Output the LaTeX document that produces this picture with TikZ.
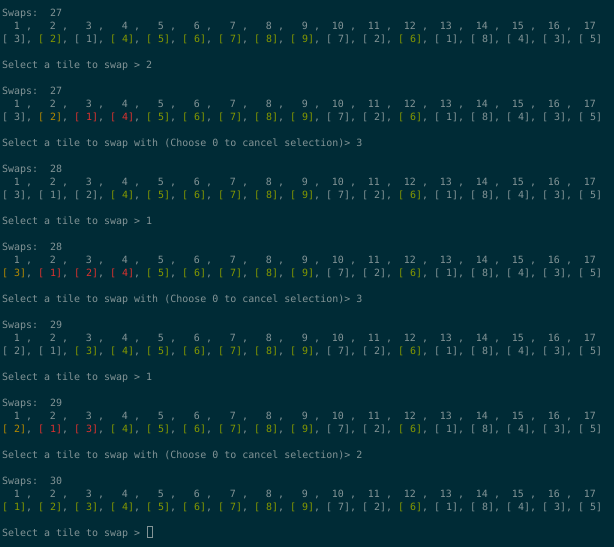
\documentclass[tikz,border=0pt]{standalone}
\usepackage{fontspec}
\setmonofont{DejaVu Sans Mono}
\definecolor{bg}{HTML}{002B36}
\definecolor{fg}{HTML}{839496}
\definecolor{tg}{HTML}{859900}
\definecolor{ty}{HTML}{B58900}
\definecolor{tr}{HTML}{DC322F}
\tikzset{
  term/.style={font=\ttfamily\fontsize{9.97}{13}\selectfont, text=fg, inner sep=0pt, anchor=base west},
  termr/.style={term, anchor=base east},
  cursorbox/.style={draw=fg, line width=0.8pt, minimum width=5pt, minimum height=11pt, inner sep=0pt, anchor=south west}
}
\newcommand{\tailvals}{fg/7,fg/2,tg/6,fg/1,fg/8,fg/4,fg/3,fg/5}
\begin{document}
\begin{tikzpicture}[x=1pt,y=-1pt]
\fill[bg] (0,0) rectangle (614,547);
\useasboundingbox (0,0) rectangle (614,547);
\foreach \b/\sw/\row/\sel in {
  0/27/{fg/3,tg/2,fg/1,tg/4,tg/5,tg/6,tg/7,tg/8,tg/9}/{Select a tile to swap > 2},
  1/27/{fg/3,ty/2,tr/1,tr/4,tg/5,tg/6,tg/7,tg/8,tg/9}/{Select a tile to swap with (Choose 0 to cancel selection)> 3},
  2/28/{fg/3,fg/1,fg/2,tg/4,tg/5,tg/6,tg/7,tg/8,tg/9}/{Select a tile to swap > 1},
  3/28/{ty/3,tr/1,tr/2,tr/4,tg/5,tg/6,tg/7,tg/8,tg/9}/{Select a tile to swap with (Choose 0 to cancel selection)> 3},
  4/29/{fg/2,fg/1,tg/3,tg/4,tg/5,tg/6,tg/7,tg/8,tg/9}/{Select a tile to swap > 1},
  5/29/{ty/2,tr/1,tr/3,tg/4,tg/5,tg/6,tg/7,tg/8,tg/9}/{Select a tile to swap with (Choose 0 to cancel selection)> 2},
  6/30/{tg/1,tg/2,tg/3,tg/4,tg/5,tg/6,tg/7,tg/8,tg/9}/{Select a tile to swap >}}{
  \pgfmathsetmacro{\ys}{16+13*(6*\b)}
  \pgfmathsetmacro{\yh}{16+13*(6*\b+1)}
  \pgfmathsetmacro{\yv}{16+13*(6*\b+2)}
  \pgfmathsetmacro{\yq}{16+13*(6*\b+4)}
  \node[term] (s\b) at (2,\ys) {Swaps:\ \ \sw};
  \foreach \n in {1,...,17}{
    \pgfmathsetmacro{\xh}{2+6*(6*(\n-1)+3)}
    \pgfmathsetmacro{\xc}{2+6*(6*(\n-1)+4)}
    \node[termr] (h\b-\n) at (\xh,\yh) {\n};
    \ifnum\n<17 \node[term] (hc\b-\n) at (\xc,\yh) {,};\fi
  }
  \edef\fullrow{\row,\tailvals}
  \foreach \c/\v [count=\n] in \fullrow{
    \pgfmathsetmacro{\xv}{2+6*6*(\n-1)}
    \node[term] (v\b-\n) at (\xv,\yv) {\textcolor{\c}{[\ \v]}\ifnum\n<17,\fi};
  }
  \node[term] (q\b) at (2,\yq) {\sel};
}
\node[cursorbox] (cur) at (147,538) {};
\end{tikzpicture}
\end{document}
